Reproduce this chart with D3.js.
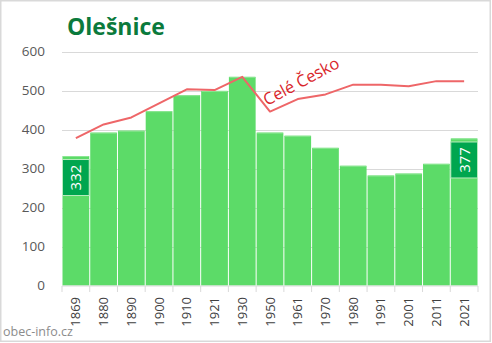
<!DOCTYPE html>
<html><head><meta charset="utf-8">
<script src="https://cdn.jsdelivr.net/npm/d3@7"></script>
<style>body{margin:0;background:#fff}svg{display:block}</style>
</head><body>
<svg id="c" width="492" height="343"></svg>
<script>
const years = ["1869","1880","1890","1900","1910","1921","1930","1950","1961","1970","1980","1991","2001","2011","2021"];
const population = [332,392,397,447,488,499,535,392,384,353,307,282,287,312,377];
const czechScaled = [378,413,431,467,503,501,535,446,478,490,515,515,511,524,524];
const yTicks = [0,100,200,300,400,500,600];
const title = "Olešnice";
const lineLabel = "Celé Česko";
const watermark = "obec-info.cz";
const labelled = [0,14];

const svg = d3.select("#c");
const font = "'Open Sans', 'Noto Sans', sans-serif";
const x = d3.scaleBand().domain(years).range([62,478]).padding(0);
const y = d3.scaleLinear().domain([0,600]).range([285.5,51.5]);

svg.append("rect").attr("x",0.75).attr("y",0.75).attr("width",489.5).attr("height",340.5)
  .attr("fill","#fff").attr("stroke","#d9d9d9").attr("stroke-width",1.5);

// grid
svg.append("g").selectAll("line").data(yTicks.filter(d=>d>0)).join("line")
  .attr("x1",62).attr("x2",478).attr("y1",d=>Math.round(y(d))+0.5).attr("y2",d=>Math.round(y(d))+0.5)
  .attr("stroke","#d9d9d9").attr("stroke-width",1);

// y labels
svg.append("g").selectAll("text").data(yTicks).join("text")
  .attr("x",45).attr("y",d=>y(d)+4.5).attr("text-anchor","end")
  .attr("font-family",font).attr("font-size",13.5).attr("fill","#595959").text(d=>d);

// bars
svg.append("g").selectAll("rect").data(years).join("rect")
  .attr("x",d=>x(d)+0.5).attr("width",x.bandwidth()-1)
  .attr("y",(d,i)=>y(population[i])).attr("height",(d,i)=>y(0)-y(population[i]))
  .attr("fill","#5cdb68");
svg.append("g").selectAll("line").data(years).join("line")
  .attr("x1",d=>x(d)+1).attr("x2",d=>x(d)+x.bandwidth()-1)
  .attr("y1",(d,i)=>y(population[i])+0.5).attr("y2",(d,i)=>y(population[i])+0.5)
  .attr("stroke","#8de694").attr("stroke-width",1);

// x axis
svg.append("line").attr("x1",62).attr("x2",478).attr("y1",286).attr("y2",286).attr("stroke","#d9d9d9");
const bounds = years.map(d=>x(d)).concat([x(years[years.length-1])+x.bandwidth()]);
svg.append("g").selectAll("line").data(bounds).join("line")
  .attr("x1",d=>d).attr("x2",d=>d).attr("y1",286).attr("y2",292).attr("stroke","#d9d9d9");
svg.append("g").selectAll("text").data(years).join("text")
  .attr("transform",d=>`translate(${x(d)+x.bandwidth()/2+4.5},297) rotate(-90)`)
  .attr("text-anchor","end").attr("font-family",font).attr("font-size",13).attr("fill","#404040").text(d=>d);

// line
const line = d3.line().x((d,i)=>x(years[i])+x.bandwidth()/2).y(d=>y(d));
svg.append("path").datum(czechScaled).attr("d",line).attr("fill","none")
  .attr("stroke","#ee6668").attr("stroke-width",2).attr("stroke-linejoin","round");

// labels on bars
labelled.forEach(i=>{
  const bx = x(years[i])+0.5, top = y(population[i])+3.5;
  svg.append("rect").attr("x",bx).attr("y",top).attr("width",x.bandwidth()-1).attr("height",36)
    .attr("fill","#00a64f").attr("stroke","#b8ecbd").attr("stroke-width",1);
  svg.append("text").attr("transform",`translate(${x(years[i])+x.bandwidth()/2+5.5},${top+18}) rotate(-90)`)
    .attr("text-anchor","middle").attr("font-family",font).attr("font-size",15).attr("fill","#fff").text(population[i]);
});

// line label
svg.append("text").attr("transform","translate(267,106) rotate(-28)")
  .attr("font-family",font).attr("font-size",16.5).attr("fill","#d9262b").text(lineLabel);

// title
svg.append("text").attr("x",67).attr("y",35).attr("font-family",font).attr("font-weight","bold")
  .attr("font-size",23).attr("fill","#0b7a3c").text(title);

// watermark
svg.append("text").attr("x",3).attr("y",336).attr("font-family",font).attr("font-size",12.5)
  .attr("fill","#8c8c8c").text(watermark);
</script>
</body></html>
